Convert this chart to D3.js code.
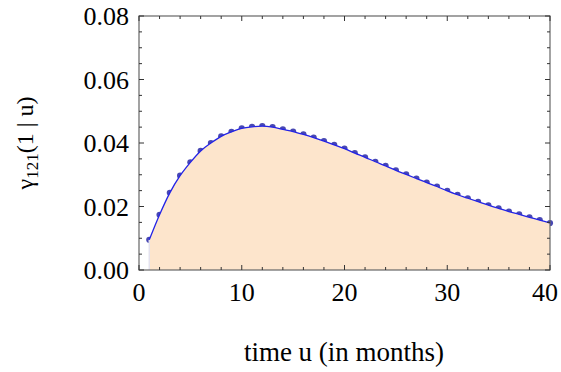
<!DOCTYPE html>
<html><head><meta charset="utf-8">
<script src="https://cdn.jsdelivr.net/npm/d3@7"></script>
<style>html,body{margin:0;padding:0;background:#fff;} text{font-family:'Liberation Serif','Times New Roman',serif;}</style>
</head><body>
<svg id="c" width="561" height="372"></svg>
<script>
const months = d3.range(1, 41);
const gamma = [0.0095,0.0174,0.0243,0.0297,0.0339,0.0375,0.0400,0.0421,0.0435,0.0446,
  0.0451,0.0453,0.0450,0.0443,0.0436,0.0427,0.0417,0.0406,0.0394,0.0382,
  0.0368,0.0355,0.0341,0.0328,0.0314,0.0301,0.0288,0.0275,0.0263,0.0249,
  0.0237,0.0226,0.0215,0.0204,0.0194,0.0184,0.0175,0.0166,0.0157,0.0148];
const xTicks = [0,10,20,30,40];
const yTicks = [0.00,0.02,0.04,0.06,0.08];
const xLabel = "time u (in months)";

const data = months.map((u,i)=>({u, v: gamma[i]}));
const L=139, R=550, T=16, B=270;
const x = d3.scaleLinear().domain([0,40]).range([L,R]);
const y = d3.scaleLinear().domain([0,0.08]).range([B,T]);
const svg = d3.select("#c");

svg.append("g").selectAll("circle").data(data).join("circle")
  .attr("cx", d=>x(d.u)).attr("cy", d=>y(d.v)).attr("r", 3.1)
  .attr("fill", "#3838ad").attr("fill-opacity", 0.92);

const area = d3.area().x(d=>x(d.u)).y0(y(0)).y1(d=>y(d.v)).curve(d3.curveMonotoneX);
svg.append("path").datum(data).attr("d", area).attr("fill", "#fde5cc");
svg.append("line").attr("x1", x(1)).attr("x2", x(1)).attr("y1", y(0)).attr("y2", y(gamma[0]))
  .attr("stroke", "#e4e2ee").attr("stroke-width", 1.5);

const line = d3.line().x(d=>x(d.u)).y(d=>y(d.v)).curve(d3.curveMonotoneX);
svg.append("path").datum(data).attr("d", line).attr("fill", "none")
  .attr("stroke", "#2323e6").attr("stroke-width", 1.3);

svg.append("rect").attr("x", L).attr("y", T).attr("width", R-L).attr("height", B-T)
  .attr("fill", "none").attr("stroke", "#666").attr("stroke-width", 1.2);

const tk = svg.append("g").attr("stroke", "#333").attr("stroke-width", 1);
d3.range(0, 40.01, 2).forEach(v=>{
  const len = (v % 10 === 0) ? 5 : 3;
  tk.append("line").attr("x1", x(v)).attr("x2", x(v)).attr("y1", B).attr("y2", B-len);
  tk.append("line").attr("x1", x(v)).attr("x2", x(v)).attr("y1", T).attr("y2", T+len);
});
d3.range(0, 0.0801, 0.005).forEach((v,i)=>{
  const len = (i % 4 === 0) ? 5 : 3;
  tk.append("line").attr("y1", y(v)).attr("y2", y(v)).attr("x1", L).attr("x2", L+len);
  tk.append("line").attr("y1", y(v)).attr("y2", y(v)).attr("x1", R).attr("x2", R-len);
});

svg.append("g").selectAll("text").data(xTicks).join("text")
  .attr("x", d=>Math.min(x(d), 545)).attr("y", 301).attr("text-anchor", "middle")
  .attr("font-size", 26).attr("fill", "#000").text(d=>d);
svg.append("g").selectAll("text").data(yTicks).join("text")
  .attr("x", 129).attr("y", d=>y(d)+9).attr("text-anchor", "end")
  .attr("font-size", 26).attr("fill", "#000").text(d=>d.toFixed(2));

svg.append("text").attr("x", 344).attr("y", 361).attr("text-anchor", "middle")
  .attr("font-size", 27).attr("fill", "#000").text(xLabel);

const yl = svg.append("text").attr("transform", "translate(33,143) rotate(-90)")
  .attr("text-anchor", "middle").attr("font-size", 24).attr("fill", "#000");
yl.append("tspan").text("γ");
yl.append("tspan").attr("font-size", 17).attr("dy", 5).text("121");
yl.append("tspan").attr("dy", -5).text("(1 | u)");
</script>
</body></html>
